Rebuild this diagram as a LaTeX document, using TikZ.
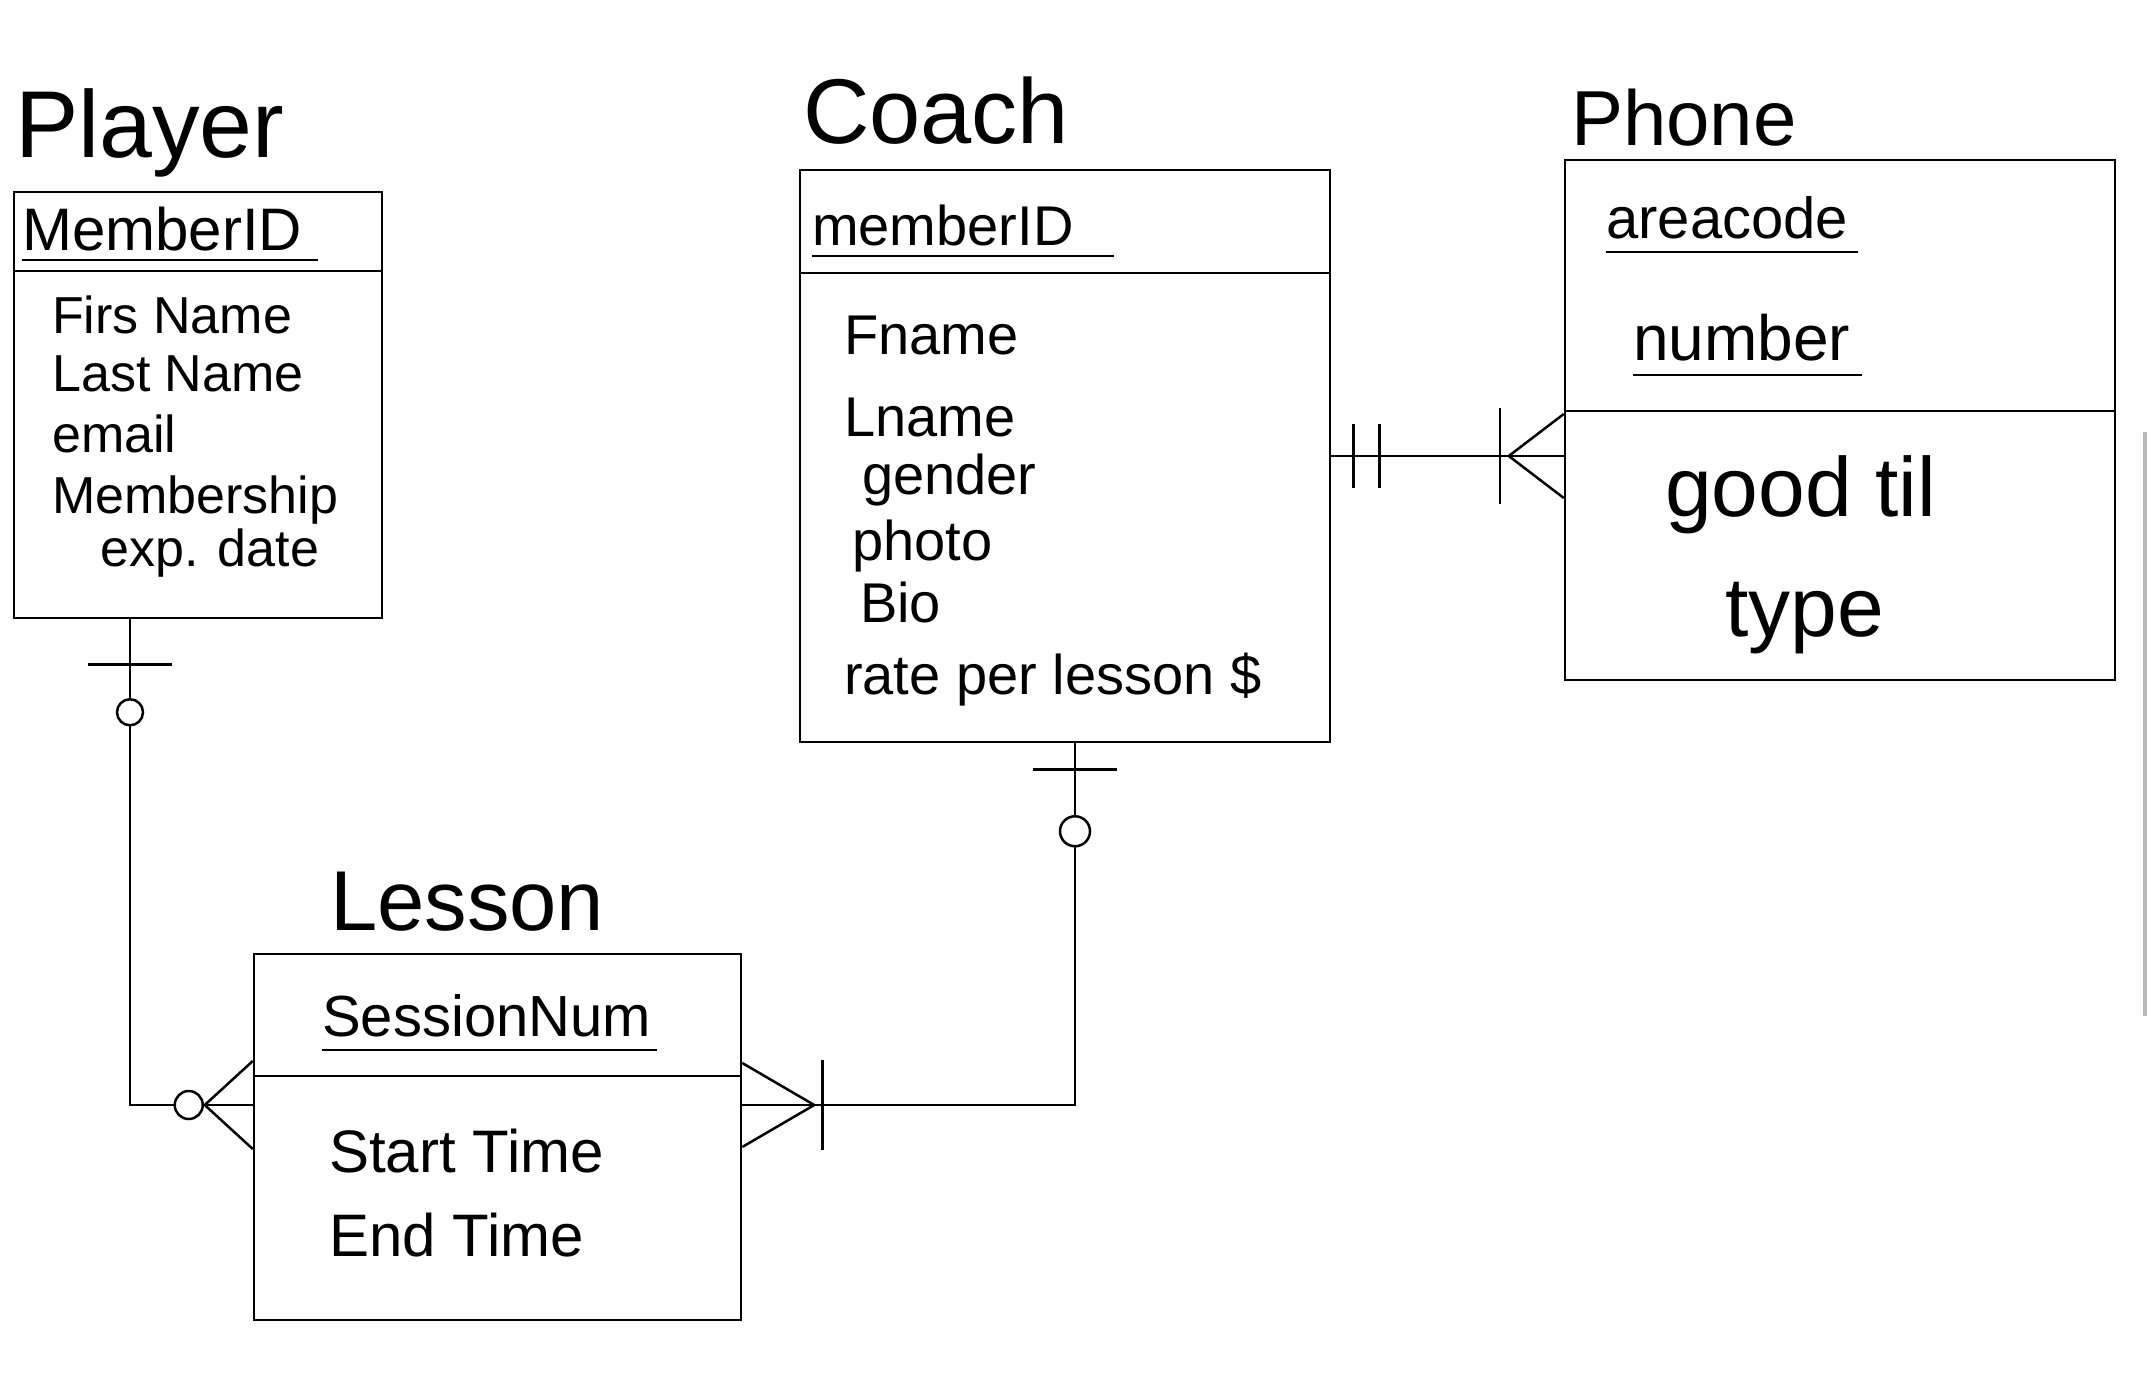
\documentclass[tikz,border=0pt]{standalone}
\usepackage{fontspec}
\setmainfont{Liberation Sans}
\newcommand\myfs[1]{\fontsize{#1}{#1}\selectfont}
\begin{document}
\begin{tikzpicture}[x=1pt,y=-1pt,
  ent/.style={draw, line width=2.5pt, rectangle, inner sep=0pt},
  lnk/.style={line width=2.5pt},
  txt/.style={anchor=base west, inner sep=0pt},
  ring/.style={circle, draw, fill=white, line width=2.5pt, inner sep=0pt},
  scroll/.style={draw=gray!55, line width=4pt}]
\useasboundingbox (0,0) rectangle (2152,1383);

% ---------- entities ----------
\node[ent, minimum width=368pt, minimum height=426pt] (player) at (198,405) {};
\node[ent, minimum width=530pt, minimum height=572pt] (coach) at (1065,456) {};
\node[ent, minimum width=550pt, minimum height=520pt] (phone) at (1840,420) {};
\node[ent, minimum width=487pt, minimum height=366pt] (lesson) at (497.5,1137) {};

% dividers
\draw[lnk] ([yshift=-80pt]player.north west) -- ([yshift=-80pt]player.north east);
\draw[lnk] ([yshift=-104pt]coach.north west) -- ([yshift=-104pt]coach.north east);
\draw[lnk] ([yshift=-252pt]phone.north west) -- ([yshift=-252pt]phone.north east);
\draw[lnk] ([yshift=-123pt]lesson.north west) -- ([yshift=-123pt]lesson.north east);

% ---------- Player ----------
\node[txt, font=\myfs{95}] (playerT) at (15,158) {Player};
\node[txt, font=\myfs{60}] (playerK) at (22,250) {MemberID};
\draw[lnk] ([yshift=-10pt]playerK.base west) -- ([xshift=16pt,yshift=-10pt]playerK.base east);
\node[txt, font=\myfs{52}] (pa1) at (52,333) {Firs Name};
\node[txt, font=\myfs{52}] (pa2) at (52,391) {Last Name};
\node[txt, font=\myfs{52}] (pa3) at (52,452) {email};
\node[txt, font=\myfs{52}] (pa4) at (52,513) {Membership};
\node[txt, font=\myfs{52}] (pa5) at (100,566) {exp. date};

% ---------- Coach ----------
\node[txt, font=\myfs{92}] (coachT) at (803,144) {Coach};
\node[txt, font=\myfs{56}] (coachK) at (812,245) {memberID};
\draw[lnk] ([yshift=-11pt]coachK.base west) -- ([xshift=40pt,yshift=-11pt]coachK.base east);
\node[txt, font=\myfs{56}] (ca1) at (844,354) {Fname};
\node[txt, font=\myfs{56}] (ca2) at (844,436) {Lname};
\node[txt, font=\myfs{56}] (ca3) at (862,494) {gender};
\node[txt, font=\myfs{56}] (ca4) at (852,560) {photo};
\node[txt, font=\myfs{56}] (ca5) at (860,622) {Bio};
\node[txt, font=\myfs{56}] (ca6) at (844,694) {rate per lesson \$};

% ---------- Phone ----------
\node[txt, font=\myfs{78}] (phoneT) at (1571,146) {Phone};
\node[txt, font=\myfs{58}] (phK1) at (1606,238) {areacode};
\draw[lnk] ([yshift=-14pt]phK1.base west) -- ([xshift=10pt,yshift=-14pt]phK1.base east);
\node[txt, font=\myfs{64}] (phK2) at (1633,360) {number};
\draw[lnk] ([yshift=-15pt]phK2.base west) -- ([xshift=12pt,yshift=-15pt]phK2.base east);
\node[txt, font=\myfs{84}] (pha1) at (1665,516) {good til};
\node[anchor=base, inner sep=0pt, font=\myfs{84}] (pha2) at (1805,636) {type};

% ---------- Lesson ----------
\node[txt, font=\myfs{85}] (lessonT) at (330,930) {Lesson};
\node[txt, font=\myfs{58}] (lessonK) at (322,1036) {SessionNum};
\draw[lnk] ([yshift=-14pt]lessonK.base west) -- ([xshift=6pt,yshift=-14pt]lessonK.base east);
\node[txt, font=\myfs{60}] (la1) at (329,1172) {Start Time};
\node[txt, font=\myfs{60}] (la2) at (329,1256) {End Time};

% ---------- Player -- Lesson ----------
\coordinate (pA) at ([xshift=-68pt]player.south);
\coordinate (lA) at ([yshift=32pt]lesson.west);
\draw[lnk] (pA) |- (lA);
\draw[lnk] ([xshift=-42pt,yshift=-45pt]pA) -- ([xshift=42pt,yshift=-45pt]pA);
\node[ring, minimum size=26pt] (pO) at ([yshift=-93pt]pA) {};
\draw[lnk] ([xshift=-48pt]lA) -- ([yshift=44pt]lA);
\draw[lnk] ([xshift=-48pt]lA) -- ([yshift=-44pt]lA);
\node[ring, minimum size=28pt] (lO) at ([xshift=-64pt]lA) {};

% ---------- Coach -- Lesson ----------
\coordinate (cA) at ([xshift=10pt]coach.south);
\coordinate (lB) at ([yshift=32pt]lesson.east);
\draw[lnk] (cA) |- (lB);
\draw[lnk] ([xshift=-42pt,yshift=-26pt]cA) -- ([xshift=42pt,yshift=-26pt]cA);
\node[ring, minimum size=30pt] (cO) at ([yshift=-88pt]cA) {};
\draw[lnk] ([xshift=72pt]lB) -- ([yshift=42pt]lB);
\draw[lnk] ([xshift=72pt]lB) -- ([yshift=-42pt]lB);
\draw[lnk] ([xshift=80pt,yshift=45pt]lB) -- ([xshift=80pt,yshift=-45pt]lB);

% ---------- Coach -- Phone ----------
\coordinate (cB) at (coach.east);
\coordinate (phB) at (phone.west |- cB);
\draw[lnk] (cB) -- (phB);
\draw[lnk] ([xshift=22pt,yshift=32pt]cB) -- ([xshift=22pt,yshift=-32pt]cB);
\draw[lnk] ([xshift=48pt,yshift=32pt]cB) -- ([xshift=48pt,yshift=-32pt]cB);
\draw[lnk] ([xshift=-55pt]phB) -- ([yshift=42pt]phB);
\draw[lnk] ([xshift=-55pt]phB) -- ([yshift=-42pt]phB);
\draw[lnk] ([xshift=-64pt,yshift=48pt]phB) -- ([xshift=-64pt,yshift=-48pt]phB);

% scroll mark at the right edge
\draw[scroll] (2145,432) -- (2145,1016);
\end{tikzpicture}
\end{document}
